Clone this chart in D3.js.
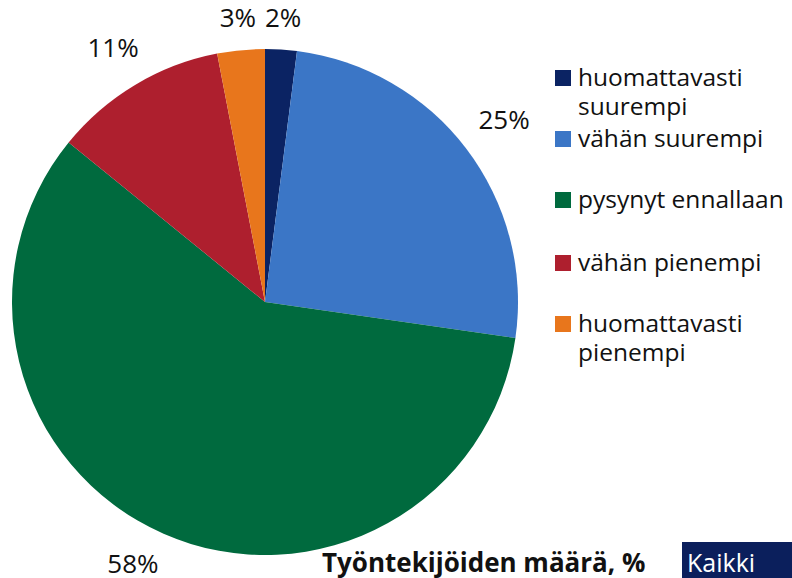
<!DOCTYPE html>
<html>
<head>
<meta charset="utf-8">
<script src="https://cdn.jsdelivr.net/npm/d3@7"></script>
<style>
  body { margin: 0; background: #fff; }
  svg { display: block; font-family: "Open Sans", sans-serif; }
</style>
</head>
<body>
<div class="container"></div>
<script>
const w = 792;
const h = 578;

// data
const categories = ['huomattavasti suurempi', 'vähän suurempi', 'pysynyt ennallaan', 'vähän pienempi', 'huomattavasti pienempi'];
const values = [2, 25, 58, 11, 3];
const colors = ['#0b2363', '#3b76c6', '#006a3e', '#ae1f2e', '#e8761c'];
const legendLines = [['huomattavasti', 'suurempi'], ['vähän suurempi'], ['pysynyt ennallaan'], ['vähän pienempi'], ['huomattavasti', 'pienempi']];
const legendY = [86, 147, 208, 271, 332];
const titleText = 'Työntekijöiden määrä, %';
const badgeText = 'Kaikki';

const cx = 265;
const cy = 302;
const radius = 253;

const svg = d3.select('.container')
    .append('svg')
    .attr('width', w)
    .attr('height', h)
    .attr('viewBox', [0, 0, w, h]);

const pie = d3.pie().sort(null).value(d => d);
const arcs = pie(values);
const arc = d3.arc().innerRadius(0).outerRadius(radius);

const g = svg.append('g').attr('transform', `translate(${cx}, ${cy})`);

g.selectAll('path')
    .data(arcs)
    .join('path')
    .attr('fill', (d, i) => colors[i])
    .attr('d', arc);

// labels outside the pie; if one would fall off the bottom, slide it round the circle
const labels = g.selectAll('text.lbl')
    .data(arcs)
    .join('text')
    .attr('class', 'lbl')
    .attr('text-anchor', 'middle')
    .attr('dy', '0.35em')
    .style('font-size', '26px')
    .attr('fill', '#111')
    .text(d => d.data + '%')
    .each(function (d) {
        const bb = this.getBBox();
        let a = (d.startAngle + d.endAngle) / 2;
        const s = Math.sin(a), c = Math.cos(a);
        const r = radius + 21 + bb.width / 2 * Math.abs(s) + 10 * Math.abs(c);
        const maxY = h - cy - 14;
        if (-r * c > maxY) {
            const t = Math.acos(maxY / r);
            a = Math.PI + (s < 0 ? t : -t);
        }
        d3.select(this).attr('x', r * Math.sin(a)).attr('y', -r * Math.cos(a));
    });

// legend
const legend = svg.append('g');
legendY.forEach((y, i) => {
    legend.append('rect')
        .attr('x', 555)
        .attr('y', y - 16)
        .attr('width', 16)
        .attr('height', 16)
        .attr('fill', colors[i]);
    legend.append('text')
        .attr('x', 578)
        .attr('y', y)
        .style('font-size', '24.5px')
        .attr('fill', '#111')
        .selectAll('tspan')
        .data(legendLines[i])
        .join('tspan')
        .attr('x', 578)
        .attr('dy', (d, j) => j === 0 ? 0 : 29)
        .text(d => d);
});

// bottom title
svg.append('text')
    .attr('x', 322)
    .attr('y', 572)
    .style('font-size', '26px')
    .style('font-weight', 'bold')
    .attr('fill', '#111')
    .text(titleText);

svg.append('rect')
    .attr('x', 682)
    .attr('y', 542)
    .attr('width', w - 682)
    .attr('height', h - 542)
    .attr('fill', '#0b1f5c');

svg.append('text')
    .attr('x', 687)
    .attr('y', 572)
    .style('font-size', '25px')
    .attr('fill', '#fff')
    .text(badgeText);
</script>
</body>
</html>
